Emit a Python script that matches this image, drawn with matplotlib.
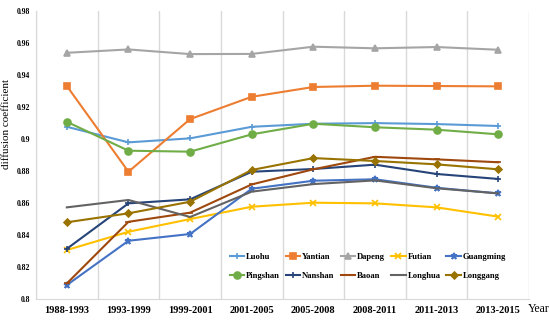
import matplotlib
matplotlib.use("Agg")
import matplotlib.pyplot as plt
import numpy as np

periods = ['1988-1993', '1993-1999', '1999-2001', '2001-2005',
           '2005-2008', '2008-2011', '2011-2013', '2013-2015']

luohu     = [0.9076, 0.8979, 0.9004, 0.9076, 0.9095, 0.9099, 0.9093, 0.9081]
yantian   = [0.9330, 0.8796, 0.9124, 0.9263, 0.9324, 0.9332, 0.9330, 0.9328]
dapeng    = [0.9537, 0.9558, 0.9529, 0.9530, 0.9575, 0.9565, 0.9573, 0.9556]
futian    = [0.8308, 0.8422, 0.8501, 0.8578, 0.8603, 0.8599, 0.8574, 0.8516]
guangming = [0.8090, 0.8366, 0.8408, 0.8690, 0.8740, 0.8749, 0.8696, 0.8661]
pingshan  = [0.9107, 0.8927, 0.8921, 0.9029, 0.9095, 0.9073, 0.9058, 0.9029]
nanshan   = [0.8316, 0.8599, 0.8624, 0.8796, 0.8813, 0.8840, 0.8782, 0.8751]
baoan     = [0.8100, 0.8484, 0.8541, 0.8717, 0.8811, 0.8889, 0.8873, 0.8855]
longhua   = [0.8574, 0.8620, 0.8514, 0.8672, 0.8719, 0.8742, 0.8693, 0.8661]
longgang  = [0.8481, 0.8537, 0.8609, 0.8807, 0.8881, 0.8863, 0.8842, 0.8811]

series = [
    ('Luohu', luohu, '#5B9BD5', '+', 5),
    ('Yantian', yantian, '#ED7D31', 's', 5),
    ('Dapeng', dapeng, '#A5A5A5', '^', 5),
    ('Futian', futian, '#FFC000', 'x', 4),
    ('Guangming', guangming, '#4472C4', '*', 5),
    ('Pingshan', pingshan, '#70AD47', 'o', 5),
    ('Nanshan', nanshan, '#264478', '+', 5),
    ('Baoan', baoan, '#9E480E', '_', 5),
    ('Longhua', longhua, '#636363', None, 5),
    ('Longgang', longgang, '#997300', 'D', 3.5),
]

serif = ['Liberation Serif', 'DejaVu Serif']

fig = plt.figure(figsize=(5.5, 3.21), dpi=100)
ax = fig.add_axes([0.0655, 0.067, 0.8965, 0.9])

x = np.arange(len(periods))
lines = []
for name, vals, col, mk, ms in series:
    ln, = ax.plot(x, vals, color=col, marker=mk, markersize=ms, linewidth=1.5,
                  markeredgewidth=1.2, label=name)
    lines.append(ln)

ax.set_xlim(-0.5, len(periods) - 0.5)
ax.set_ylim(0.8, 0.98)
yt = np.arange(0.80, 0.981, 0.02)
ax.set_yticks(yt)
ax.set_yticklabels(['%g' % round(v, 2) for v in yt], fontfamily=serif,
                   fontweight='bold', fontsize=5.5)
ax.set_xticks(x)
ax.set_xticklabels(periods, fontfamily=serif, fontweight='bold', fontsize=7.5)
ax.set_xticks(np.arange(-0.5, len(periods)), minor=True)
ax.grid(True, which='minor', axis='x', color='#D9D9D9', linewidth=1)
ax.tick_params(which='both', length=0)
ax.tick_params(axis='x', pad=5)
ax.tick_params(axis='y', pad=4)
for s in ['top', 'right']:
    ax.spines[s].set_visible(False)
for s in ['left', 'bottom']:
    ax.spines[s].set_color('#D9D9D9')

ax.set_ylabel('diffusion coefficient', fontfamily=serif, fontsize=8)
ax.yaxis.set_label_coords(-0.051, 0.606)
ax.text(0.997, -0.033, 'Year', transform=ax.transAxes, fontfamily=serif,
        fontsize=8.5, va='center', ha='left')

# row-major order for a 2 x 5 legend
order = [0, 5, 1, 6, 2, 7, 3, 8, 4, 9]
ax.legend([lines[i] for i in order], [series[i][0] for i in order],
          ncol=5, loc='center', bbox_to_anchor=(0.673, 0.114),
          frameon=False, prop={'family': serif, 'weight': 'bold', 'size': 6.2},
          handlelength=1.7, columnspacing=0.7, labelspacing=1.35,
          handletextpad=0.2)

fig.savefig('out.png', dpi=100)
